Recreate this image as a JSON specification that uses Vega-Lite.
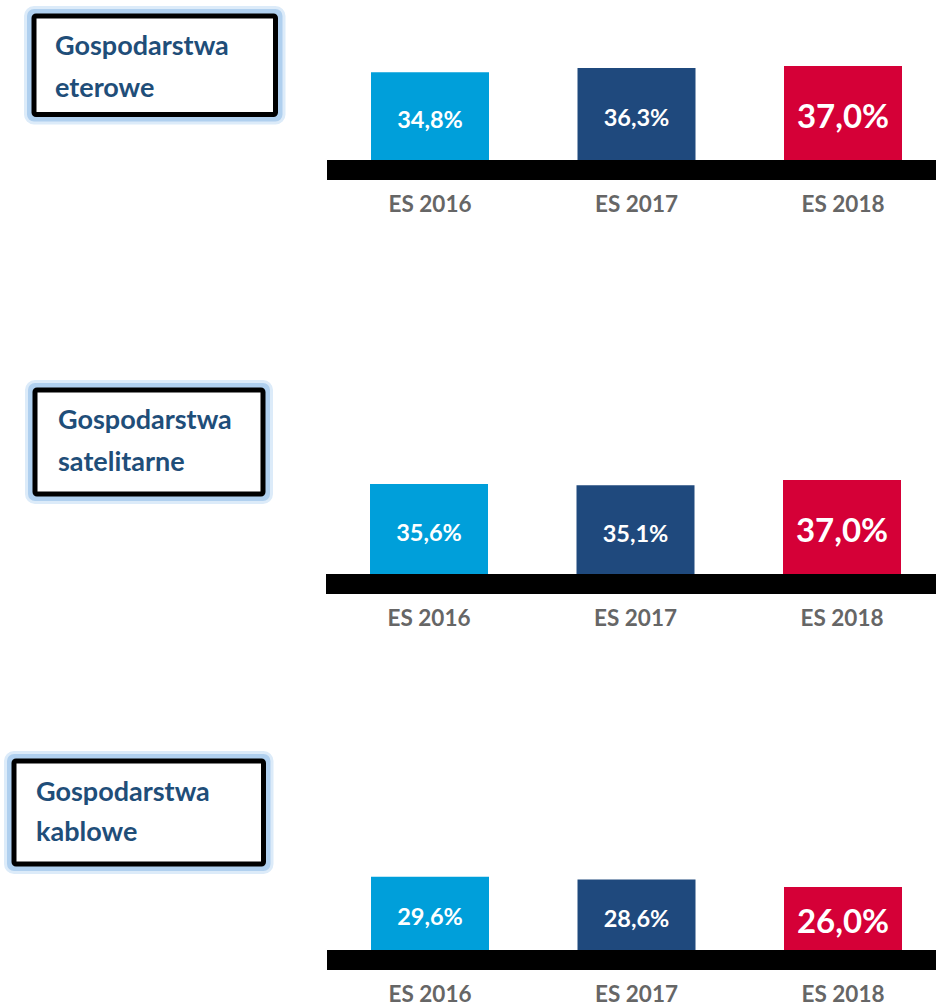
{
  "$schema": "https://vega.github.io/schema/vega-lite/v6.json",
  "usermeta": {"embedOptions": {"actions": false}},
  "padding": {"left": 0, "top": 6, "right": 0, "bottom": 0},
  "background": "white",
  "config": {
    "view": {"stroke": null},
    "locale": {"number": {"decimal": ",", "thousands": "\u00a0", "grouping": [3], "currency": ["", " zł"]}}
  },
  "spacing": 0,
  "vconcat": [
    {
      "spacing": 0,
      "bounds": "flush",
      "hconcat": [
        {"width": 34, "height": 364, "data": {"values": []}, "mark": "point", "encoding": {}},
        {
          "width": 241.5, "height": 98.5,
          "data": {"values": [{"label": "Gospodarstwa\neterowe"}]},
          "layer": [
            {"mark": {"type": "rect", "filled": false, "stroke": "#dcebf9", "strokeWidth": 20, "strokeJoin": "round"}, "encoding": {}},
            {"mark": {"type": "rect", "filled": false, "stroke": "#b0d0ef", "strokeWidth": 14, "strokeJoin": "round"}, "encoding": {}},
            {"mark": {"type": "rect", "fill": "white", "stroke": "black", "strokeWidth": 5, "cornerRadius": 2}, "encoding": {}},
            {"mark": {"type": "text", "align": "left", "baseline": "top", "font": "Lato", "fontSize": 27, "fontWeight": "bold", "color": "#1F4E79", "lineHeight": 42, "lineBreak": "\n"},
             "encoding": {"text": {"field": "label", "type": "nominal"}, "x": {"value": 21}, "y": {"value": 17.5}}}
          ]
        },
        {"width": 50.5, "height": 10, "data": {"values": []}, "mark": "point", "encoding": {}},
        {
          "width": 610, "height": 154,
          "data": {"values": [
            {"year": "ES 2016", "value": 0.348},
            {"year": "ES 2017", "value": 0.363},
            {"year": "ES 2018", "value": 0.370}
          ]},
          "layer": [
            {
              "mark": {"type": "bar"},
              "encoding": {
                "x": {"field": "year", "type": "nominal", "sort": ["ES 2016", "ES 2017", "ES 2018"],
                  "scale": {"paddingInner": 0.4286, "paddingOuter": 0.1913, "align": 0.557},
                  "axis": {"title": null, "domain": false, "ticks": false, "tickSize": 0, "grid": false, "labelAngle": 0, "labelPadding": 34.5, "labelBaseline": "middle", "labelFont": "Lato", "labelFontSize": 22.5, "labelFontWeight": "bold", "labelColor": "#666666"}},
                "y": {"field": "value", "type": "quantitative", "scale": {"domain": [0, 0.548], "nice": false}, "axis": null},
                "color": {"field": "year", "type": "nominal", "scale": {"domain": ["ES 2016", "ES 2017", "ES 2018"], "range": ["#009FDA", "#1F497D", "#D50037"]}, "legend": null}
              }
            },
            {
              "mark": {"type": "rule", "color": "black", "strokeWidth": 20},
              "encoding": {"y": {"datum": 0, "type": "quantitative", "scale": {"domain": [0, 0.548], "nice": false}, "axis": null}}
            },
            {
              "mark": {"type": "text", "color": "white", "font": "Lato", "fontWeight": "bold", "baseline": "middle", "align": "center"},
              "encoding": {
                "x": {"field": "year", "type": "nominal", "sort": ["ES 2016", "ES 2017", "ES 2018"],
                  "axis": {"title": null, "domain": false, "ticks": false, "tickSize": 0, "grid": false, "labelAngle": 0, "labelPadding": 34.5, "labelBaseline": "middle", "labelFont": "Lato", "labelFontSize": 22.5, "labelFontWeight": "bold", "labelColor": "#666666"}},
                "y": {"field": "value", "type": "quantitative", "scale": {"domain": [0, 1.096], "nice": false}, "axis": null},
                "text": {"field": "value", "type": "quantitative", "format": ".1%"},
                "size": {"condition": {"test": "datum.year === 'ES 2018'", "value": 33}, "value": 23.5}
              }
            }
          ],
          "resolve": {"scale": {"y": "independent"}}
        }
      ]
    },
    {
      "spacing": 0,
      "bounds": "flush",
      "hconcat": [
        {"width": 35, "height": 361, "data": {"values": []}, "mark": "point", "encoding": {}},
        {
          "width": 228, "height": 104,
          "data": {"values": [{"label": "Gospodarstwa\nsatelitarne"}]},
          "layer": [
            {"mark": {"type": "rect", "filled": false, "stroke": "#dcebf9", "strokeWidth": 20, "strokeJoin": "round"}, "encoding": {}},
            {"mark": {"type": "rect", "filled": false, "stroke": "#b0d0ef", "strokeWidth": 14, "strokeJoin": "round"}, "encoding": {}},
            {"mark": {"type": "rect", "fill": "white", "stroke": "black", "strokeWidth": 5, "cornerRadius": 2}, "encoding": {}},
            {"mark": {"type": "text", "align": "left", "baseline": "top", "font": "Lato", "fontSize": 27, "fontWeight": "bold", "color": "#1F4E79", "lineHeight": 42, "lineBreak": "\n"},
             "encoding": {"text": {"field": "label", "type": "nominal"}, "x": {"value": 23}, "y": {"value": 17.5}}}
          ]
        },
        {"width": 63, "height": 10, "data": {"values": []}, "mark": "point", "encoding": {}},
        {
          "width": 610, "height": 194,
          "data": {"values": [
            {"year": "ES 2016", "value": 0.356},
            {"year": "ES 2017", "value": 0.351},
            {"year": "ES 2018", "value": 0.370}
          ]},
          "layer": [
            {
              "mark": {"type": "bar"},
              "encoding": {
                "x": {"field": "year", "type": "nominal", "sort": ["ES 2016", "ES 2017", "ES 2018"],
                  "scale": {"paddingInner": 0.4286, "paddingOuter": 0.1913, "align": 0.557},
                  "axis": {"title": null, "domain": false, "ticks": false, "tickSize": 0, "grid": false, "labelAngle": 0, "labelPadding": 34.5, "labelBaseline": "middle", "labelFont": "Lato", "labelFontSize": 22.5, "labelFontWeight": "bold", "labelColor": "#666666"}},
                "y": {"field": "value", "type": "quantitative", "scale": {"domain": [0, 0.690], "nice": false}, "axis": null},
                "color": {"field": "year", "type": "nominal", "scale": {"domain": ["ES 2016", "ES 2017", "ES 2018"], "range": ["#009FDA", "#1F497D", "#D50037"]}, "legend": null}
              }
            },
            {
              "mark": {"type": "rule", "color": "black", "strokeWidth": 20},
              "encoding": {"y": {"datum": 0, "type": "quantitative", "scale": {"domain": [0, 0.690], "nice": false}, "axis": null}}
            },
            {
              "mark": {"type": "text", "color": "white", "font": "Lato", "fontWeight": "bold", "baseline": "middle", "align": "center"},
              "encoding": {
                "x": {"field": "year", "type": "nominal", "sort": ["ES 2016", "ES 2017", "ES 2018"],
                  "axis": {"title": null, "domain": false, "ticks": false, "tickSize": 0, "grid": false, "labelAngle": 0, "labelPadding": 34.5, "labelBaseline": "middle", "labelFont": "Lato", "labelFontSize": 22.5, "labelFontWeight": "bold", "labelColor": "#666666"}},
                "y": {"field": "value", "type": "quantitative", "scale": {"domain": [0, 1.380], "nice": false}, "axis": null},
                "text": {"field": "value", "type": "quantitative", "format": ".1%"},
                "size": {"condition": {"test": "datum.year === 'ES 2018'", "value": 33}, "value": 23.5}
              }
            }
          ],
          "resolve": {"scale": {"y": "independent"}}
        }
      ]
    },
    {
      "spacing": 0,
      "bounds": "flush",
      "hconcat": [
        {"width": 13.5, "height": 10, "data": {"values": []}, "mark": "point", "encoding": {}},
        {
          "width": 249.5, "height": 103,
          "data": {"values": [{"label": "Gospodarstwa\nkablowe"}]},
          "layer": [
            {"mark": {"type": "rect", "filled": false, "stroke": "#dcebf9", "strokeWidth": 20, "strokeJoin": "round"}, "encoding": {}},
            {"mark": {"type": "rect", "filled": false, "stroke": "#b0d0ef", "strokeWidth": 14, "strokeJoin": "round"}, "encoding": {}},
            {"mark": {"type": "rect", "fill": "white", "stroke": "black", "strokeWidth": 5, "cornerRadius": 2}, "encoding": {}},
            {"mark": {"type": "text", "align": "left", "baseline": "top", "font": "Lato", "fontSize": 27, "fontWeight": "bold", "color": "#1F4E79", "lineHeight": 40, "lineBreak": "\n"},
             "encoding": {"text": {"field": "label", "type": "nominal"}, "x": {"value": 22}, "y": {"value": 19.2}}}
          ]
        },
        {"width": 63, "height": 10, "data": {"values": []}, "mark": "point", "encoding": {}},
        {
          "width": 610, "height": 199,
          "data": {"values": [
            {"year": "ES 2016", "value": 0.296},
            {"year": "ES 2017", "value": 0.286},
            {"year": "ES 2018", "value": 0.260}
          ]},
          "layer": [
            {
              "mark": {"type": "bar"},
              "encoding": {
                "x": {"field": "year", "type": "nominal", "sort": ["ES 2016", "ES 2017", "ES 2018"],
                  "scale": {"paddingInner": 0.4286, "paddingOuter": 0.1913, "align": 0.557},
                  "axis": {"title": null, "domain": false, "ticks": false, "tickSize": 0, "grid": false, "labelAngle": 0, "labelPadding": 34.5, "labelBaseline": "middle", "labelFont": "Lato", "labelFontSize": 22.5, "labelFontWeight": "bold", "labelColor": "#666666"}},
                "y": {"field": "value", "type": "quantitative", "scale": {"domain": [0, 0.708], "nice": false}, "axis": null},
                "color": {"field": "year", "type": "nominal", "scale": {"domain": ["ES 2016", "ES 2017", "ES 2018"], "range": ["#009FDA", "#1F497D", "#D50037"]}, "legend": null}
              }
            },
            {
              "mark": {"type": "rule", "color": "black", "strokeWidth": 20},
              "encoding": {"y": {"datum": 0, "type": "quantitative", "scale": {"domain": [0, 0.708], "nice": false}, "axis": null}}
            },
            {
              "mark": {"type": "text", "color": "white", "font": "Lato", "fontWeight": "bold", "baseline": "middle", "align": "center"},
              "encoding": {
                "x": {"field": "year", "type": "nominal", "sort": ["ES 2016", "ES 2017", "ES 2018"],
                  "axis": {"title": null, "domain": false, "ticks": false, "tickSize": 0, "grid": false, "labelAngle": 0, "labelPadding": 34.5, "labelBaseline": "middle", "labelFont": "Lato", "labelFontSize": 22.5, "labelFontWeight": "bold", "labelColor": "#666666"}},
                "y": {"field": "value", "type": "quantitative", "scale": {"domain": [0, 1.416], "nice": false}, "axis": null},
                "text": {"field": "value", "type": "quantitative", "format": ".1%"},
                "size": {"condition": {"test": "datum.year === 'ES 2018'", "value": 33}, "value": 23.5}
              }
            }
          ],
          "resolve": {"scale": {"y": "independent"}}
        }
      ]
    }
  ]
}
